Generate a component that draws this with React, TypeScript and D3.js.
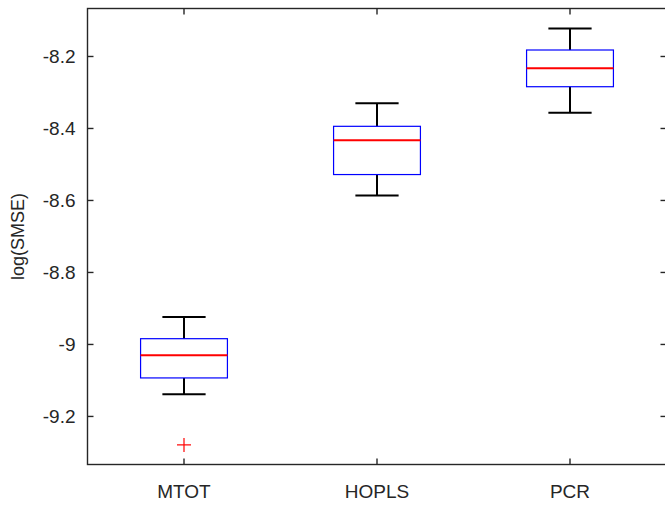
import React from 'react';
import * as d3 from 'd3';

const categories = ['MTOT', 'HOPLS', 'PCR'];
const upperWhisker = [-8.924, -8.33, -8.122];
const q3 = [-8.984, -8.394, -8.182];
const median = [-9.03, -8.433, -8.233];
const q1 = [-9.093, -8.528, -8.284];
const lowerWhisker = [-9.138, -8.586, -8.356];
const outliers = [[-9.279], [], []];
const yTicks = [-9.2, -9, -8.8, -8.6, -8.4, -8.2];

const width = 665;
const height = 506;
const axisColor = '#262626';
const font = 'Arial, "Liberation Sans", Helvetica, sans-serif';

// MATLAB-style labels use a plain hyphen, not the unicode minus
const fmt = (v: number) => d3.format('~g')(v).replace('\u2212', '-');

const App: React.FC = () => {
  const left = 87.5;
  const right = 666.5;
  const top = 8.5;
  const bottom = 464.5;

  const x = d3.scaleLinear().domain([0.5, 3.5]).range([left, right]);
  const y = d3.scaleLinear().domain([-9.3335, -8.0667]).range([bottom, top]);
  const boxHalf = 0.225;
  const capHalf = 0.112;
  const tickLen = 6;

  return (
    <svg
      width={width}
      height={height}
      style={{ position: 'absolute', left: 0, top: 0, background: '#fff' }}
    >
      {/* boxes */}
      {categories.map((c, i) => {
        const cx = x(i + 1);
        return (
          <g key={c}>
            {/* whiskers */}
            <line x1={cx} x2={cx} y1={y(upperWhisker[i])} y2={y(q3[i])} stroke="#000" strokeWidth={2} />
            <line x1={cx} x2={cx} y1={y(q1[i])} y2={y(lowerWhisker[i])} stroke="#000" strokeWidth={2} />
            <line x1={x(i + 1 - capHalf)} x2={x(i + 1 + capHalf)} y1={y(upperWhisker[i])} y2={y(upperWhisker[i])} stroke="#000" strokeWidth={2} />
            <line x1={x(i + 1 - capHalf)} x2={x(i + 1 + capHalf)} y1={y(lowerWhisker[i])} y2={y(lowerWhisker[i])} stroke="#000" strokeWidth={2} />
            {/* box */}
            <rect
              x={x(i + 1 - boxHalf)}
              y={y(q3[i])}
              width={x(i + 1 + boxHalf) - x(i + 1 - boxHalf)}
              height={y(q1[i]) - y(q3[i])}
              fill="none"
              stroke="#0000ff"
              strokeWidth={1.2}
            />
            {/* median */}
            <line x1={x(i + 1 - boxHalf)} x2={x(i + 1 + boxHalf)} y1={y(median[i])} y2={y(median[i])} stroke="#ff0000" strokeWidth={2} />
            {/* outliers */}
            {outliers[i].map((v, j) => (
              <g key={j} stroke="#ff0000" strokeWidth={1.2}>
                <line x1={cx - 7} x2={cx + 7} y1={y(v)} y2={y(v)} />
                <line x1={cx} x2={cx} y1={y(v) - 7} y2={y(v) + 7} />
              </g>
            ))}
          </g>
        );
      })}

      {/* axes frame */}
      <rect x={left} y={top} width={right - left} height={bottom - top} fill="none" stroke={axisColor} strokeWidth={1.4} />

      {/* y ticks */}
      {yTicks.map((t) => (
        <g key={t}>
          <line x1={left} x2={left + tickLen} y1={y(t)} y2={y(t)} stroke={axisColor} strokeWidth={1.4} />
          <line x1={right} x2={right - tickLen} y1={y(t)} y2={y(t)} stroke={axisColor} strokeWidth={1.4} />
          <text
            x={left - 12}
            y={y(t)}
            textAnchor="end"
            dominantBaseline="central"
            fontFamily={font}
            fontSize={19}
            fill={axisColor}
          >
            {fmt(t)}
          </text>
        </g>
      ))}

      {/* x ticks */}
      {categories.map((c, i) => (
        <g key={c}>
          <line x1={x(i + 1)} x2={x(i + 1)} y1={bottom} y2={bottom - tickLen} stroke={axisColor} strokeWidth={1.4} />
          <line x1={x(i + 1)} x2={x(i + 1)} y1={top} y2={top + tickLen} stroke={axisColor} strokeWidth={1.4} />
          <text
            x={x(i + 1)}
            y={498}
            textAnchor="middle"
            fontFamily={font}
            fontSize={19}
            fill={axisColor}
          >
            {c}
          </text>
        </g>
      ))}

      {/* y label */}
      <text
        transform={`translate(24, ${(top + bottom) / 2}) rotate(-90)`}
        textAnchor="middle"
        fontFamily={font}
        fontSize={18}
        fill={axisColor}
      >
        log(SMSE)
      </text>
    </svg>
  );
};

export default App;
